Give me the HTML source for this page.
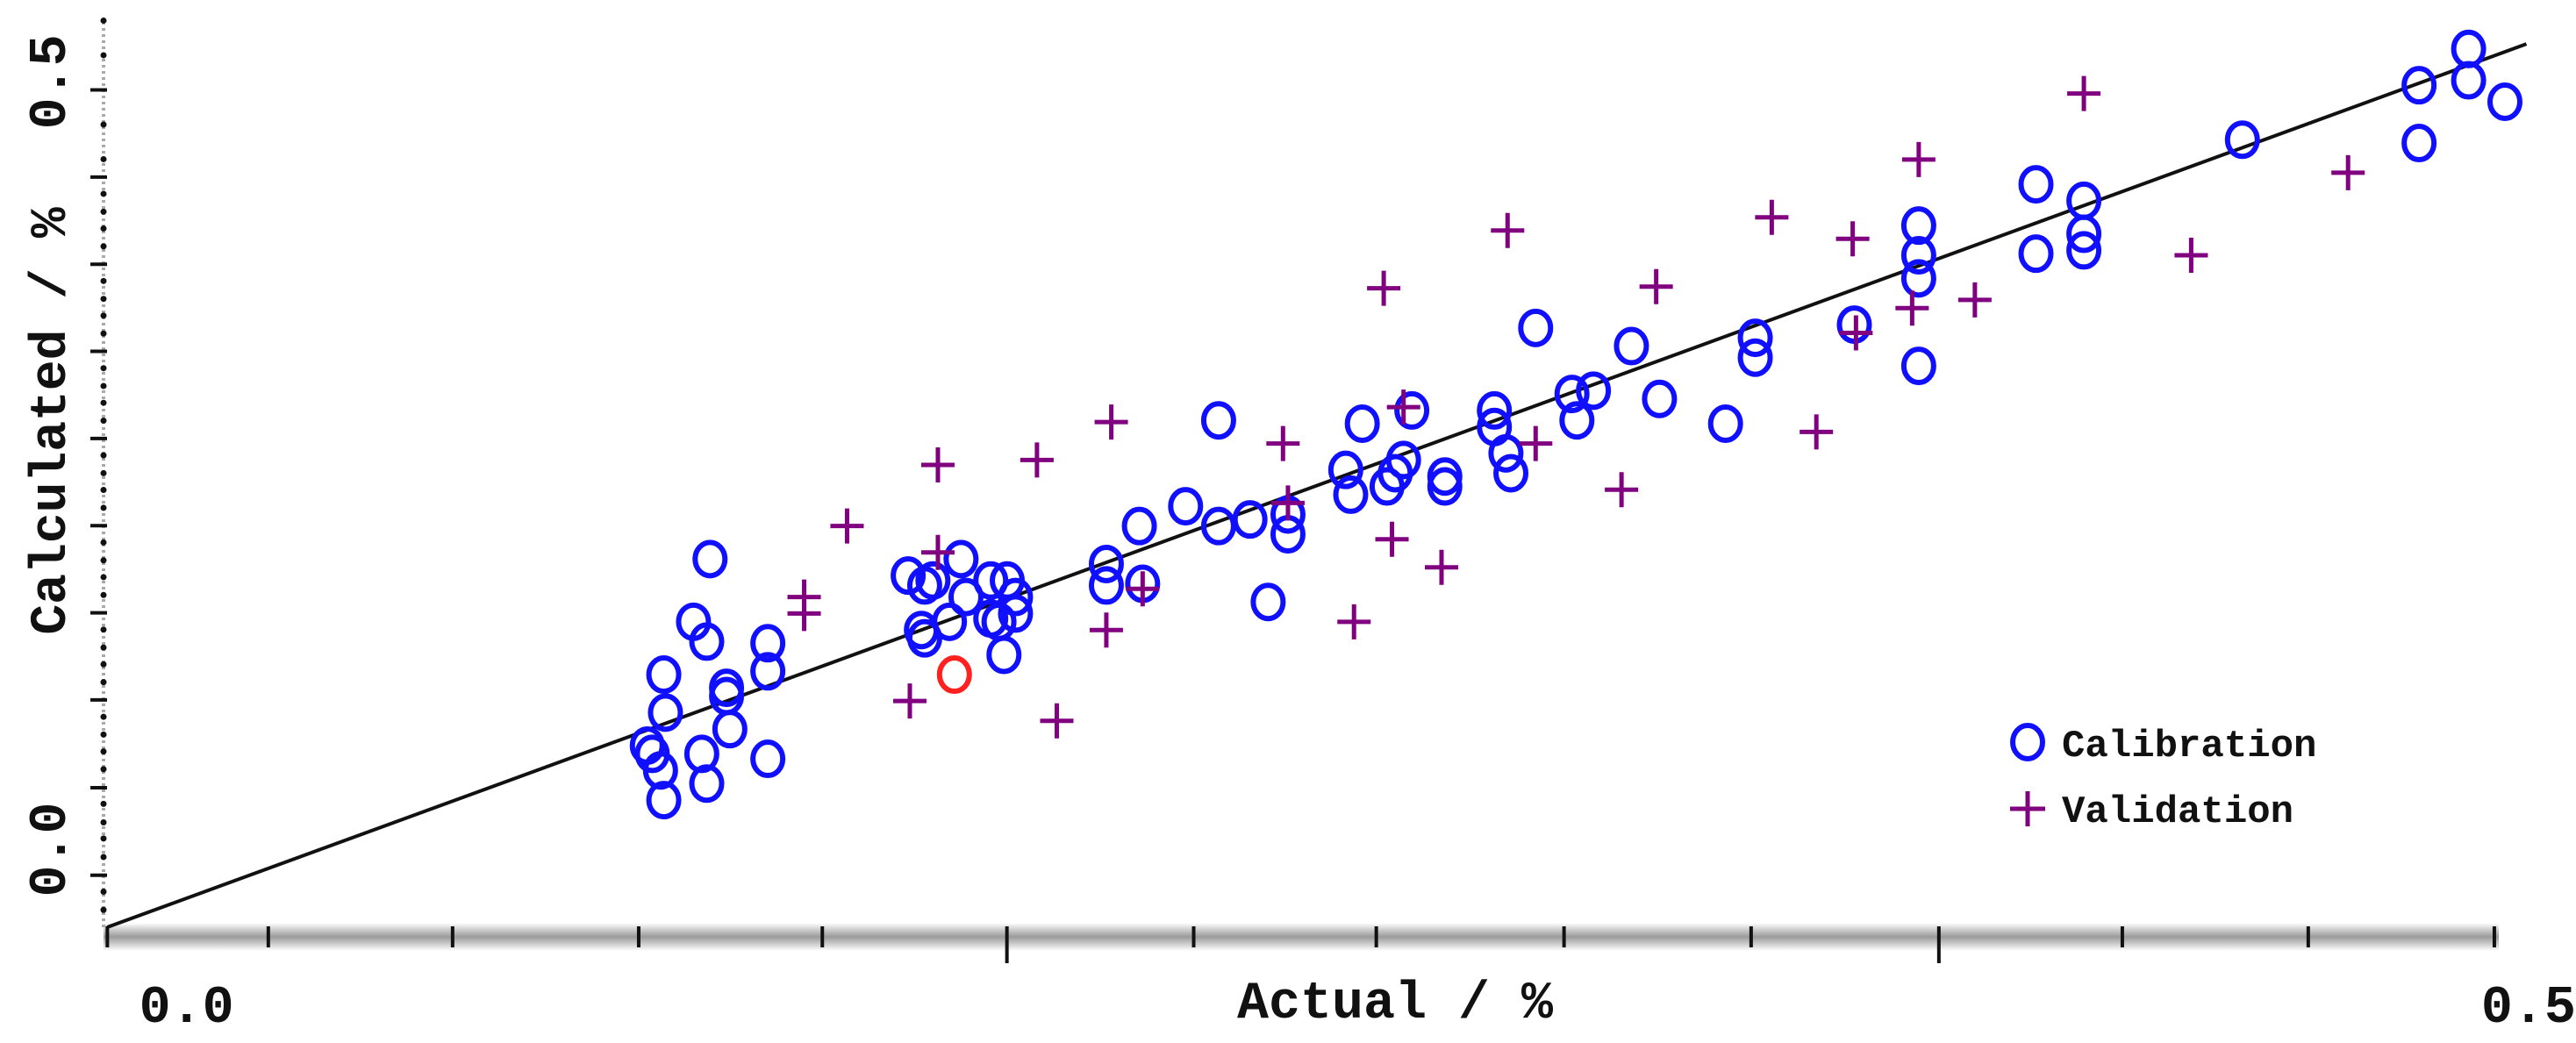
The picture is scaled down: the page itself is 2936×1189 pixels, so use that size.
<!DOCTYPE html>
<html><head><meta charset="utf-8"><style>
html,body{margin:0;padding:0;background:#fff}
svg{display:block}
text{font-family:"Liberation Mono",monospace;fill:#111;font-weight:bold}
</style></head><body>
<svg id="chart" width="2936" height="1189" viewBox="0 0 2936 1189">
<defs>
<linearGradient id="axg" x1="0" y1="0" x2="0" y2="1">
<stop offset="0" stop-color="#fff"/><stop offset="0.5" stop-color="#9a9a9a"/><stop offset="1" stop-color="#fff"/>
</linearGradient>
</defs>
<g id="axes"></g>
<g id="marks"></g>
<text x="1590" y="1160" font-size="60" text-anchor="middle">Actual / %</text>
<text transform="translate(74,480) rotate(-90)" font-size="58" text-anchor="middle">Calculated / %</text>
<g>
<ellipse cx="2311" cy="846" rx="17" ry="19" fill="none" stroke="#1010ff" stroke-width="6"/>
<text x="2350" y="862" font-size="44">Calibration</text>
<path d="M2291 922 H2331 M2311 902 V942" stroke="#800080" stroke-width="5"/>
<text x="2350" y="937" font-size="44">Validation</text>
</g>
</svg>
<script>
// data values (units: arbitrary scale, 0..1.45)
const calX=[0.327,0.337,0.335,0.338,0.337,0.355,0.363,0.365,0.360,0.363,0.375,0.377,0.375,0.400,0.400,0.400,0.330,
0.485,0.495,0.500,0.517,0.493,0.495,0.510,0.520,0.535,0.540,0.550,0.545,0.535,0.550,0.543,
0.605,0.605,0.627,0.625,0.653,0.673,0.673,0.692,0.715,0.715,0.703,0.750,0.753,0.760,0.775,0.780,0.785,0.790,0.810,0.810,0.840,0.840,0.847,0.850,0.865,0.887,0.890,0.900,0.923,0.940,0.980,0.998,0.998,1.058,1.097,1.097,1.097,1.097,1.168,1.168,1.197,1.197,1.197,1.293,1.400,1.400,1.430,1.430,1.452];
const calY=[0.110,0.077,0.095,0.130,0.153,0.185,0.173,0.223,0.105,0.087,0.140,0.120,0.145,0.172,0.155,0.102,0.105,
0.213,0.207,0.210,0.223,0.180,0.175,0.185,0.200,0.210,0.185,0.200,0.210,0.187,0.190,0.165,
0.220,0.207,0.208,0.243,0.255,0.307,0.243,0.247,0.250,0.238,0.197,0.277,0.262,0.305,0.267,0.275,0.283,0.313,0.267,0.273,0.313,0.303,0.287,0.275,0.363,0.323,0.307,0.325,0.352,0.320,0.305,0.357,0.345,0.365,0.425,0.407,0.393,0.340,0.450,0.408,0.440,0.420,0.410,0.477,0.510,0.475,0.532,0.513,0.500];
const calRed=[0.513,0.153];
const valX=[0.422,0.422,0.448,0.503,0.503,0.486,0.563,0.575,0.608,0.605,0.627,0.712,0.715,0.755,0.773,0.778,0.785,0.808,0.848,0.865,0.917,0.938,1.008,1.035,1.057,1.059,1.093,1.097,1.131,1.197,1.262,1.357];
const valY=[0.200,0.190,0.243,0.280,0.227,0.137,0.283,0.125,0.306,0.180,0.205,0.293,0.257,0.185,0.387,0.235,0.315,0.218,0.422,0.293,0.265,0.388,0.430,0.300,0.417,0.360,0.375,0.465,0.380,0.505,0.407,0.457];
const lineX=[0,1.465];
const lineY=[0,0.535];
const xTickVals=[0,0.0975,0.2091,0.3218,0.433,0.5448,0.6579,0.7685,0.8822,0.9955,1.1092,1.2203,1.3329,1.4456];
const xMajor=[5,10];
const yTickVals=[0.0315,0.0845,0.1377,0.1904,0.2432,0.2960,0.3488,0.4016,0.4544,0.5072];
const xLabels=["0.0","0.5"];const xLabelVals=[0.048,1.495];
const xLabelAnchors=["middle","end"];
const yLabels=["0.0","0.5"];const yLabelVals=[0.047,0.512];

const NS="http://www.w3.org/2000/svg";
const sx=v=>(65+v*1000)*1.882;
const sy=v=>1057-v*1000*1.882;
function mk(tag,attrs,parent){const e=document.createElementNS(NS,tag);for(const k in attrs)e.setAttribute(k,attrs[k]);parent.appendChild(e);return e;}
const axes=document.getElementById('axes'),marks=document.getElementById('marks');
let e=mk('rect',{x:118,y:1052,width:2730,height:32,fill:'url(#axg)'},axes);


xTickVals.forEach((v,i)=>{const big=xMajor.includes(i);const t=mk('line',{x1:sx(v),x2:sx(v),y1:1056,y2:big?1098:1080,stroke:'#111','stroke-width':4},axes);

});
e=mk('line',{x1:118,x2:118,y1:25,y2:1058,stroke:'#aaa','stroke-width':4,'stroke-dasharray':'3 4'},axes);


yTickVals.forEach((v,i)=>{const y=sy(v);const t=mk('line',{x1:103,x2:122,y1:y,y2:y,stroke:'#111','stroke-width':4},axes);


for(let k=1;k<5;k++){const yy=y+k*197.5/5;if(yy>1050)break;const d=mk('circle',{cx:118,cy:yy,r:3.5,fill:'#111'},axes);

}});
[sy(0.5072)-39.5,sy(0.5072)-79].forEach(yy=>{const d=mk('circle',{cx:118,cy:yy,r:3.5,fill:'#111'},axes);

});
xLabels.forEach((s,i)=>{const t=mk('text',{x:sx(xLabelVals[i]),y:1165,'font-size':60,'text-anchor':xLabelAnchors[i]},axes);t.textContent=s;

});
yLabels.forEach((s,i)=>{const y=sy(yLabelVals[i]);const t=mk('text',{transform:`translate(74,${y}) rotate(-90)`,'font-size':60,'text-anchor':'middle'},axes);t.textContent=s;

});
e=mk('line',{x1:sx(lineX[0]),y1:sy(lineY[0]),x2:sx(lineX[1]),y2:sy(lineY[1]),stroke:'#111','stroke-width':4},marks);


calX.forEach((v,i)=>{const c=mk('ellipse',{cx:sx(v),cy:sy(calY[i]),rx:17,ry:19,fill:'none',stroke:'#1010ff','stroke-width':6},marks);

});
e=mk('ellipse',{cx:sx(calRed[0]),cy:sy(calRed[1]),rx:17,ry:19,fill:'none',stroke:'#ff2020','stroke-width':6},marks);


valX.forEach((v,i)=>{const x=sx(v),y=sy(valY[i]);const p=mk('path',{d:`M${x-19} ${y} H${x+19} M${x} ${y-20} V${y+20}`,stroke:'#800080','stroke-width':5},marks);

});
</script>
</body></html>
